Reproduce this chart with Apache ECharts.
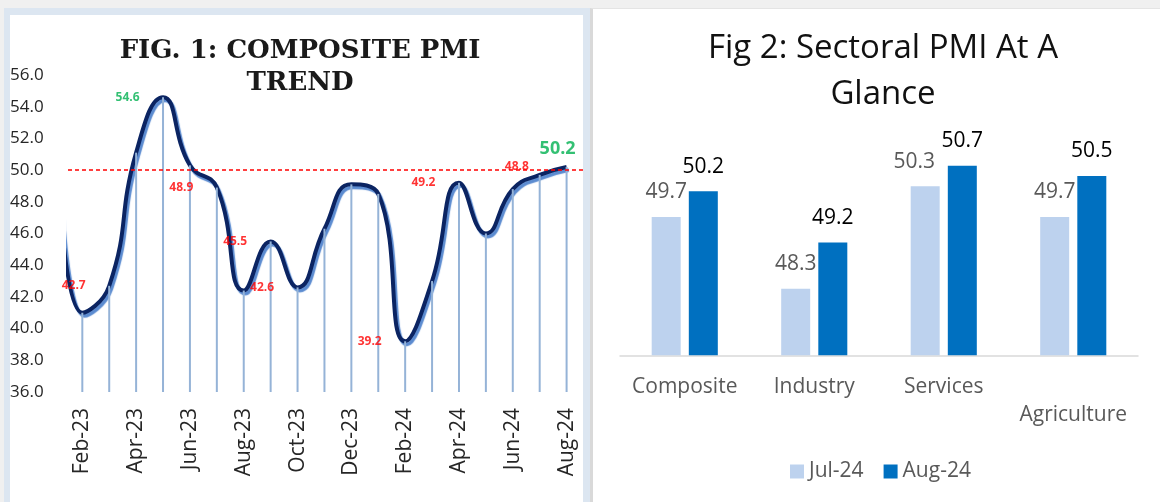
<!DOCTYPE html>
<html>
<head>
<meta charset="utf-8">
<script src="https://cdn.jsdelivr.net/npm/echarts@6/dist/echarts.min.js"></script>
<style>
  body { margin: 0; background: #f0f0f0; width: 1160px; height: 502px; overflow: hidden; position: relative; }
  .panel { position: absolute; box-sizing: border-box; background: #fff; }
  #leftPanel { left: 4px; top: 8px; width: 586px; height: 500px; border-style: solid; border-color: #dce6f1; border-width: 7px 7px 0 6px; }
  #rightPanel { left: 590px; top: 8px; width: 570px; height: 500px; border-left: 3px solid #d9d9d9; border-top: 1px solid #e4e4e4; }
  .chart { position: absolute; top: 0; height: 502px; }
</style>
</head>
<body>
<div class="panel" id="leftPanel"></div>
<div class="panel" id="rightPanel"></div>
<div class="chart" id="trend" style="left:0;width:590px;"></div>
<div class="chart" id="sector" style="left:590px;width:570px;"></div>
<script>
// fig 1 - composite pmi, monthly
var months = ["Jan-23", "Feb-23", "Mar-23", "Apr-23", "May-23", "Jun-23", "Jul-23", "Aug-23", "Sep-23", "Oct-23",
  "Nov-23", "Dec-23", "Jan-24", "Feb-24", "Mar-24", "Apr-24", "May-24", "Jun-24", "Jul-24", "Aug-24"];
var composite = [54.5, 41.0, 42.7, 51.1, 54.6, 50.3, 48.9, 42.4, 45.5, 42.6,
  46.3, 49.1, 48.5, 39.2, 43.0, 49.2, 46.0, 48.8, 49.7, 50.2];
var labelled = [2, 4, 6, 8, 9, 13, 15, 17, 19];
var monthTicks = [1, 3, 5, 7, 9, 11, 13, 15, 17, 19];
var yTicks = [36, 56, 2];
var threshold = 50;

// fig 2 - sectoral pmi
var sectors = ["Composite", "Industry", "Services", "Agriculture"];
var jul24 = [49.7, 48.3, 50.3, 49.7];
var aug24 = [50.2, 49.2, 50.7, 50.5];

var X_MIN = 0.468, X_MAX = 19.61;
var RED = "#ff0000", GREEN = "#00b050";

function labelStyle(i) {
  var s = { show: true, fontFamily: "Open Sans", fontWeight: "bold", fontSize: 12, color: RED,
    position: "left", distance: 23, formatter: function (p) { return p.value[1].toFixed(1); } };
  if (i === 4) s.color = GREEN;
  if (i === 17) { s.position = "top"; s.distance = 16; s.offset = [4, 0]; }
  if (i === 19) { s.position = "top"; s.distance = 9; s.offset = [-9, 0]; s.color = GREEN; s.fontSize = 18; }
  return s;
}

var points = composite.map(function (v, i) { return [i, v]; });

var trend = echarts.init(document.getElementById("trend"));
trend.setOption({
  animation: false,
  title: {
    text: "FIG. 1: COMPOSITE PMI\nTREND",
    left: 295, top: 30, textAlign: "center",
    textStyle: { fontFamily: "DejaVu Serif", fontWeight: "bold", fontSize: 26, lineHeight: 32, color: "#1a1a1a" }
  },
  grid: { left: 68, right: 7, top: 75, bottom: 110 },
  xAxis: {
    type: "value", min: X_MIN, max: X_MAX,
    axisLine: { show: false }, axisTick: { show: false }, splitLine: { show: false },
    axisLabel: {
      customValues: monthTicks, rotate: 90, margin: 16,
      fontFamily: "Open Sans", fontSize: 21, color: "#262626",
      formatter: function (v) { return months[Math.round(v)]; }
    }
  },
  yAxis: {
    type: "value", min: yTicks[0], max: yTicks[1], interval: yTicks[2],
    axisLine: { show: false }, axisTick: { show: false }, splitLine: { show: false },
    axisLabel: { align: "left", margin: 58, fontFamily: "Open Sans", fontSize: 17, color: "#262626",
      formatter: function (v) { return v.toFixed(1); } }
  },
  series: [
    {
      type: "line", data: points, smooth: 0.5, showSymbol: false, clip: true, z: 3,
      lineStyle: { color: "#0b2462", width: 4, shadowColor: "#5b8bd0", shadowBlur: 1, shadowOffsetX: 2, shadowOffsetY: 3 },
      markLine: {
        silent: true, symbol: ["none", "none"], label: { show: false },
        lineStyle: { color: RED, type: [4, 3], width: 1.5, shadowBlur: 0, shadowColor: "transparent" },
        data: [{ yAxis: threshold }]
      }
    },
    {
      // drop lines
      type: "custom", data: points, z: 4,
      renderItem: function (params, api) {
        var x = api.value(0);
        if (x < X_MIN) return;
        var top = api.coord([x, api.value(1)]);
        var bot = api.coord([x, yTicks[0]]);
        return { type: "line", shape: { x1: top[0], y1: top[1], x2: bot[0], y2: bot[1] },
          style: { stroke: "#95b3d7", lineWidth: 2 } };
      }
    },
    {
      type: "scatter", symbolSize: 1, z: 5, itemStyle: { color: "rgba(0,0,0,0)" },
      data: labelled.map(function (i) { return { value: [i, composite[i]], label: labelStyle(i) }; })
    }
  ]
});

var sector = echarts.init(document.getElementById("sector"));
var barLabel = { show: true, position: "top", distance: 14, fontFamily: "Open Sans", fontSize: 21 };
sector.setOption({
  animation: false,
  title: {
    text: "Fig 2: Sectoral PMI At A\nGlance",
    left: 288, top: 21, textAlign: "center",
    textStyle: { fontFamily: "Open Sans", fontWeight: "normal", fontSize: 33, lineHeight: 46, color: "#111" }
  },
  legend: {
    left: 195, top: 456, itemWidth: 14, itemHeight: 14, itemGap: 20, icon: "rect",
    textStyle: { fontFamily: "Open Sans", fontSize: 21, color: "#595959" },
    data: ["Jul-24", "Aug-24"]
  },
  grid: { left: 30, right: 22, top: 150.3, bottom: 146.7 },
  xAxis: {
    type: "category",
    data: sectors.map(function (s, i) { return i === 3 ? { value: s, textStyle: { padding: [28, 0, 0, 0] } } : s; }),
    axisLine: { lineStyle: { color: "#d9d9d9", width: 1.5 } }, axisTick: { show: false },
    axisLabel: { margin: 21, fontFamily: "Open Sans", fontSize: 21, color: "#595959", interval: 0 }
  },
  yAxis: { type: "value", min: 47, max: 51, show: false, splitLine: { show: false } },
  series: [
    {
      name: "Jul-24", type: "bar", barWidth: 29, barGap: "28%",
      itemStyle: { color: "#bdd2ee" },
      label: Object.assign({}, barLabel, { color: "#595959" }),
      data: jul24.map(function (v, i) { return i === 2 ? { value: v, label: { offset: [-11, 0] } } : v; })
    },
    {
      name: "Aug-24", type: "bar", barWidth: 29,
      itemStyle: { color: "#0070c0" },
      label: Object.assign({}, barLabel, { color: "#000" }),
      data: aug24
    }
  ]
});
</script>
</body>
</html>
